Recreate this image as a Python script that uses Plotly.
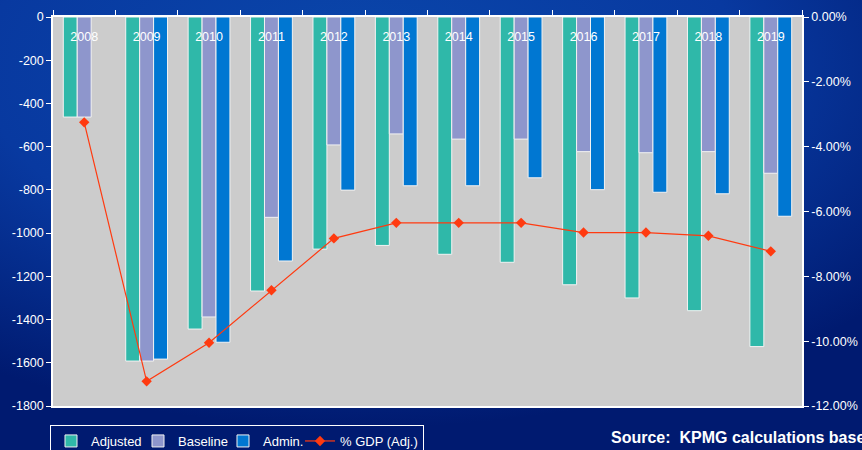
import base64
import plotly.graph_objects as go

years = ["2008", "2009", "2010", "2011", "2012", "2013", "2014", "2015", "2016", "2017", "2018", "2019"]
adjusted = [-463, -1592, -1444, -1268, -1074, -1057, -1098, -1135, -1239, -1300, -1359, -1525]
baseline = [-463, -1592, -1388, -927, -592, -541, -565, -565, -623, -628, -623, -723]
admin = [None, -1583, -1505, -1129, -801, -781, -781, -744, -799, -811, -818, -922]
gdp_pct = [-3.25, -11.24, -10.05, -8.43, -6.83, -6.35, -6.35, -6.35, -6.65, -6.65, -6.75, -7.23]

left_tickvals = [0, -200, -400, -600, -800, -1000, -1200, -1400, -1600, -1800]
left_ticktext = ["0", "-200", "-400", "-600", "-800", "-1000", "-1200", "-1400", "-1600", "-1800"]
right_tickvals = [0, -2, -4, -6, -8, -10, -12]
right_ticktext = ["0.00%", "-2.00%", "-4.00%", "-6.00%", "-8.00%", "-10.00%", "-12.00%"]

source_text = "Source:  KPMG calculations based on Treasury data"

C_ADJ = "#2fb8a9"
C_BASE = "#8e96cc"
C_ADMIN = "#0077d2"
C_LINE = "#ff3a10"
FONT = "Liberation Sans, Arial, sans-serif"

# background gradient as inline SVG
svg = (
    '<svg xmlns="http://www.w3.org/2000/svg" width="862" height="450">'
    '<defs><radialGradient id="g" cx="0.42" cy="0.15" r="0.8">'
    '<stop offset="0" stop-color="#0a47ab"/>'
    '<stop offset="0.55" stop-color="#0839a0"/>'
    '<stop offset="1" stop-color="#001a70"/>'
    '</radialGradient></defs>'
    '<rect width="862" height="450" fill="url(#g)"/></svg>'
)
bg_src = "data:image/svg+xml;base64," + base64.b64encode(svg.encode()).decode()

W, H = 862, 450
ml, mr, mt, mb = 53, 60, 17, 44
pw, ph = W - ml - mr, H - mt - mb

fig = go.Figure()
line_style = dict(color="#f2f2f2", width=1)
fig.add_trace(go.Bar(x=years, y=adjusted, name="Adjusted", legendwidth=42,
                     marker=dict(color=C_ADJ, line=line_style)))
fig.add_trace(go.Bar(x=years, y=baseline, name="Baseline", legendwidth=40,
                     marker=dict(color=C_BASE, line=line_style)))
fig.add_trace(go.Bar(x=years, y=admin, name="Admin.", legendwidth=32,
                     marker=dict(color=C_ADMIN, line=line_style)))
fig.add_trace(go.Scatter(x=years, y=gdp_pct, name="% GDP (Adj.)", yaxis="y2", mode="lines+markers",
                         line=dict(color=C_LINE, width=1.2),
                         marker=dict(symbol="diamond", size=8, color=C_LINE)))

axis_font = dict(family=FONT, size=12.5, color="white")

fig.update_layout(
    width=W, height=H,
    margin=dict(l=ml, r=mr, t=mt, b=mb, pad=0, autoexpand=False),
    paper_bgcolor="#0a3d9c",
    plot_bgcolor="rgba(0,0,0,0)",
    barmode="group",
    bargap=0.33,
    bargroupgap=0,
    font=dict(family=FONT, color="white", size=12.5),
    xaxis=dict(type="category", side="top", ticklabelstandoff=-31, range=[-0.5, 11.5],
               tickson="boundaries", ticks="outside", ticklen=5, tickcolor="white",
               showline=True, linecolor="white", linewidth=1.5, mirror=True,
               showgrid=False, tickfont=axis_font, zeroline=False, automargin=False),
    yaxis=dict(range=[-1800, 0], tickvals=left_tickvals, ticktext=left_ticktext,
               ticks="outside", ticklen=5, tickcolor="white",
               showline=True, linecolor="white", linewidth=1.5, mirror=True,
               showgrid=False, zeroline=False, tickfont=axis_font, automargin=False),
    yaxis2=dict(range=[-12, 0], overlaying="y", side="right",
                tickvals=right_tickvals, ticktext=right_ticktext,
                ticks="outside", ticklen=5, tickcolor="white",
                showline=True, linecolor="white", linewidth=1.5,
                showgrid=False, zeroline=False, tickfont=axis_font, automargin=False),
    legend=dict(orientation="h", x=-3 / pw, xanchor="left", y=-19 / ph, yanchor="top",
                bgcolor="rgba(0,0,0,0)", bordercolor="white", borderwidth=1,
                font=dict(family=FONT, size=13, color="white"),
                itemwidth=30, tracegroupgap=0),
    images=[dict(source=bg_src, xref="paper", yref="paper",
                 x=-ml / pw, y=1 + mt / ph, sizex=W / pw, sizey=H / ph,
                 xanchor="left", yanchor="top", sizing="stretch", layer="below")],
    shapes=[dict(type="rect", xref="paper", yref="paper", x0=0, x1=1, y0=0, y1=1,
                 fillcolor="#cccccc", line=dict(width=0), layer="below")],
    annotations=[dict(text="<b>" + source_text + "</b>", xref="paper", yref="paper",
                      x=(609 - ml) / pw, y=-(438 - mt - ph) / ph, xanchor="left",
                      yanchor="middle", showarrow=False, align="left",
                      font=dict(family=FONT, size=16, color="white"))],
    showlegend=True,
)

fig.write_html("out.html")
